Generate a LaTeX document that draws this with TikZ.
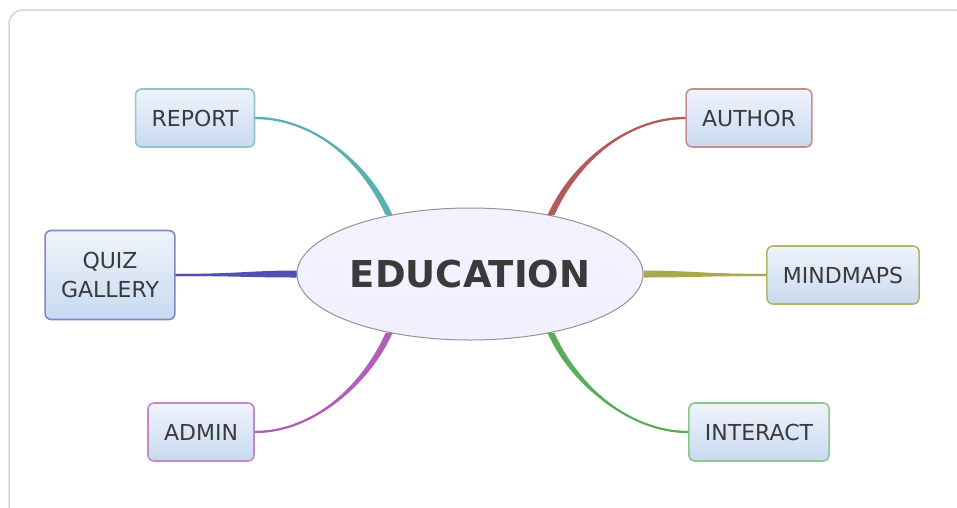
\documentclass[tikz,border=0pt]{standalone}
\usepackage{fontspec}
\setmainfont{DejaVu Sans}
\usetikzlibrary{shapes.geometric,calc}

\definecolor{txtgray}{HTML}{3A3A3A}
\definecolor{frame}{HTML}{D4D4D4}
\definecolor{boxtop}{HTML}{EFF3FB}
\definecolor{boxbot}{HTML}{C8DAF0}
\definecolor{cReport}{HTML}{5AAFAF}
\definecolor{cAuthor}{HTML}{B55A5A}
\definecolor{cQuiz}{HTML}{5050B0}
\definecolor{cMind}{HTML}{A8A84E}
\definecolor{cAdmin}{HTML}{B060B8}
\definecolor{cInteract}{HTML}{5AAE5A}

% tapered branch: colour, start, first control offset, second control offset, end, half width at end
\newcommand{\branch}[6]{%
  \draw[#1, line width=2.2pt] (#2) .. controls ($(#2)+#3$) and ($(#5)+#4$) .. (#5);
  \fill[#1] ($(#2)+(0,1)$) .. controls ($(#2)+#3+0.3*#6$) and ($(#5)+#4+#6$) .. ($(#5)+#6$)
    -- ($(#5)-#6$) .. controls ($(#5)+#4-#6$) and ($(#2)+#3-0.3*#6$) .. ($(#2)-(0,1)$) -- cycle;}

\begin{document}
\begin{tikzpicture}[x=1pt,y=-1pt]
        % Styles
        \tikzstyle{topic} = [rectangle, draw, line width=1.6pt, rounded corners=6pt,
                             top color=boxtop, bottom color=boxbot,
                             minimum height=58pt, inner xsep=16pt, align=center,
                             text=txtgray, font=\fontsize{22}{29}\selectfont]
        \tikzstyle{center} = [ellipse, draw=gray!85, line width=1pt,
                              top color=white!95!blue, bottom color=blue!6,
                              minimum width=346pt, minimum height=132pt, inner sep=0pt,
                              text=txtgray, font=\bfseries\fontsize{37}{40}\selectfont]

        \useasboundingbox (0,0) rectangle (957,507);
        \draw[frame, line width=1.5pt, rounded corners=14pt] (9,10) rectangle (968,520);

        % ==== Nodes ====
        \node[center] (edu)                        at (470,274) {EDUCATION};
        \node[topic, draw=cReport!70]   (report)   at (195,118) {REPORT};
        \node[topic, draw=cAuthor!70]   (author)   at (749,118) {AUTHOR};
        \node[topic, draw=cQuiz!70, minimum height=89pt] (quiz) at (110,275) {QUIZ\\GALLERY};
        \node[topic, draw=cMind!85]     (mindmaps) at (843,275) {MINDMAPS};
        \node[topic, draw=cAdmin!75]    (admin)    at (201,432) {ADMIN};
        \node[topic, draw=cInteract!70] (interact) at (759,432) {INTERACT};

        % ==== Branches ====
        \branch{cReport}{report.east}{(60,0)}{(-22,-50)}{edu.144}{(3.5,0)}
        \branch{cAuthor}{author.west}{(-60,0)}{(22,-50)}{edu.36}{(3.5,0)}
        \branch{cAdmin}{admin.east}{(60,0)}{(-22,50)}{edu.216}{(3.5,0)}
        \branch{cInteract}{interact.west}{(-60,0)}{(22,50)}{edu.324}{(3.5,0)}

        % straight ones
        \branch{cQuiz}{quiz.east}{(60,0)}{(-45,0)}{edu.west}{(0,3.5)}
        \branch{cMind}{mindmaps.west}{(-60,0)}{(45,0)}{edu.east}{(0,3.5)}
    \end{tikzpicture}
\end{document}
